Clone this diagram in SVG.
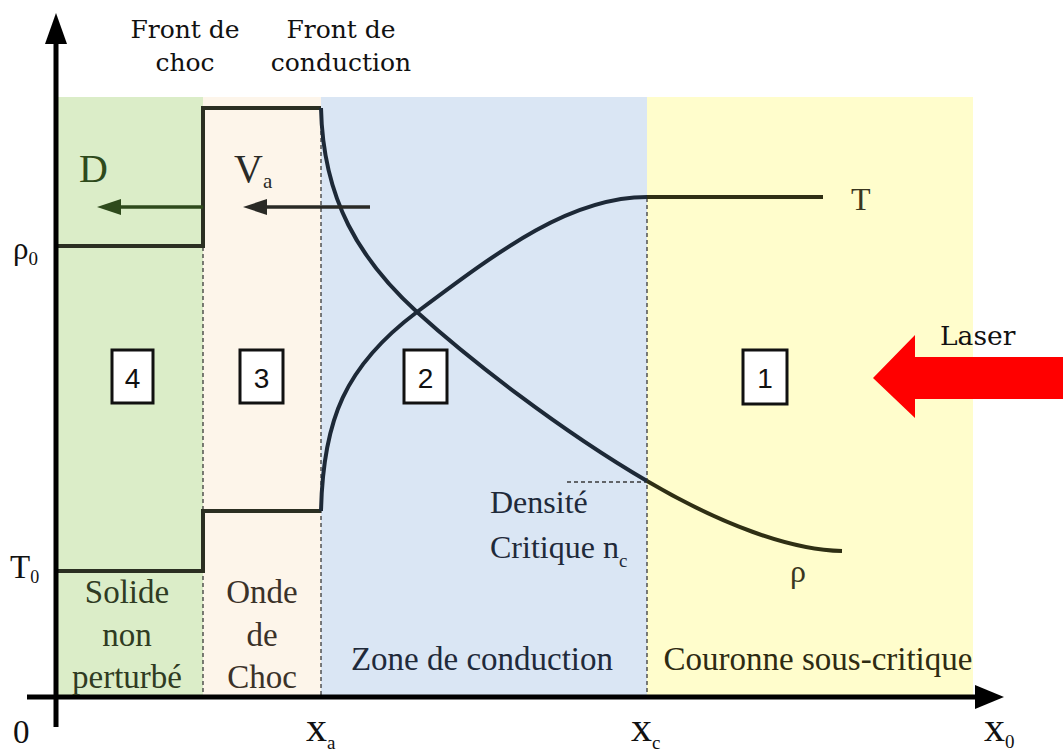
<svg xmlns="http://www.w3.org/2000/svg" width="1063" height="754" viewBox="0 0 1063 754">
<style>
  .serif{font-family:"Liberation Serif","Times New Roman",serif}
  .dv{font-family:"DejaVu Serif","Liberation Serif",serif;font-size:25px;fill:#111}
  .lab{font-size:33px}
  .num{font-family:"Liberation Sans",Arial,sans-serif;font-size:28px;fill:#111;text-anchor:middle}
  .box{fill:#fff;stroke:#111;stroke-width:3}
  .dash{fill:none;stroke:#3a3a3a;stroke-width:1.3;stroke-dasharray:4 3}
  .step{fill:none;stroke:#2b2f22;stroke-width:4;stroke-linejoin:miter}
  .curve{fill:none;stroke:#1d2937;stroke-width:4}
  .curveY{fill:none;stroke:#2f2f14;stroke-width:4}
  .axis{fill:none;stroke:#000;stroke-width:5}
</style>
<rect width="1063" height="754" fill="#fff"/>
<g id="regions">
  <rect id="region4" x="58" y="97" width="145" height="600" fill="#dbedc8"/>
  <rect id="region3" x="203" y="97" width="118" height="600" fill="#fdf5ea"/>
  <rect id="region2" x="321" y="97" width="326" height="600" fill="#dae6f4"/>
  <rect id="region1" x="647" y="97" width="326" height="600" fill="#fffdcc"/>
</g>
<g id="dashes">
  <line class="dash" x1="203" y1="247" x2="203" y2="697"/>
  <line class="dash" x1="321" y1="110" x2="321" y2="697"/>
  <line class="dash" x1="647" y1="198" x2="647" y2="697"/>
  <line class="dash" x1="567" y1="482" x2="647" y2="482"/>
</g>
<g id="connectors">
  <path id="rho-step" class="step" d="M58,246 H203 V108 H321"/>
  <path id="T-step" class="step" d="M58,571 H203 V511 H321"/>
  <path id="rho-curve" class="curve" d="M321,108 C323,200 360,260 417,312 C470,360 560,430 647,481"/>
  <path id="rho-curve-y" class="curveY" d="M647,481 C720,524 790,550 842,551"/>
  <path id="T-curve" class="curve" d="M321,511 C323,420 345,366 417,312 C500,250 570,197 647,197"/>
  <line id="T-flat" class="curveY" x1="647" y1="197" x2="823" y2="197"/>
  <line id="D-arrow" x1="203" y1="207" x2="120" y2="207" stroke="#2e4a1c" stroke-width="3.5"/>
  <polygon points="97,207 121,199 121,215" fill="#2e4a1c"/>
  <line id="Va-arrow" x1="370" y1="207" x2="264" y2="207" stroke="#2a2a26" stroke-width="3.5"/>
  <polygon points="243,207 267,199 267,215" fill="#2a2a26"/>
  <polygon id="laser-arrow" points="873,378 915,335 915,357 1063,357 1063,399 915,399 915,418" fill="#ff0000"/>
  <line id="y-axis" class="axis" x1="56" y1="40" x2="56" y2="727"/>
  <polygon points="56,13 45,44 67,44" fill="#000"/>
  <line id="x-axis" class="axis" x1="27" y1="697" x2="978" y2="697"/>
  <polygon points="1004,697 975,685 975,709" fill="#000"/>
</g>
<g id="top-labels">
  <text class="dv" x="185" y="38" text-anchor="middle">Front de</text>
  <text class="dv" x="185" y="71" text-anchor="middle">choc</text>
  <text class="dv" x="341" y="38" text-anchor="middle">Front de</text>
  <text class="dv" x="341" y="71" text-anchor="middle">conduction</text>
</g>
<g id="axis-labels" class="serif" fill="#111">
  <text x="13" y="259" font-size="31">ρ<tspan font-size="19" dy="6">0</tspan></text>
  <text x="10" y="578" font-size="33">T<tspan font-size="18" dy="5">0</tspan></text>
  <text x="13" y="743" font-size="33">0</text>
  <text x="306" y="741" font-size="42">x<tspan font-size="19" dy="8">a</tspan></text>
  <text x="631" y="741" font-size="42">x<tspan font-size="19" dy="8">c</tspan></text>
  <text x="984" y="741" font-size="42">x<tspan font-size="19" dy="7">0</tspan></text>
</g>
<g id="flow-labels" class="serif">
  <text x="79" y="182" font-size="40" fill="#2e4a1c">D</text>
  <text x="234" y="182" font-size="40" fill="#2a2a26">V<tspan font-size="21" dy="6">a</tspan></text>
  <text x="851" y="210" font-size="32" fill="#3a3620">T</text>
  <text x="790" y="582" font-size="32" fill="#3a3620">ρ</text>
  <text x="940" y="345" class="dv" style="font-size:26.5px">Laser</text>
</g>
<g id="node4">
  <rect class="box" x="112" y="350" width="41" height="53"/>
  <text class="num" x="132.5" y="388">4</text>
  <g class="serif lab" fill="#2f3b22" text-anchor="middle">
    <text x="127" y="603">Solide</text>
    <text x="127" y="646">non</text>
    <text x="127" y="688">perturbé</text>
  </g>
</g>
<g id="node3">
  <rect class="box" x="240" y="350" width="43" height="53"/>
  <text class="num" x="261.5" y="388">3</text>
  <g class="serif lab" fill="#3b3229" text-anchor="middle">
    <text x="262" y="603">Onde</text>
    <text x="262" y="646">de</text>
    <text x="262" y="688">Choc</text>
  </g>
</g>
<g id="node2">
  <rect class="box" x="404" y="350" width="43" height="53"/>
  <text class="num" x="425.5" y="388">2</text>
  <text class="serif lab" x="482" y="670" fill="#1f2a3a" text-anchor="middle">Zone de conduction</text>
  <text class="serif" x="490" y="513" font-size="32" fill="#1f2a3a">Densité</text>
  <text class="serif" x="490" y="558" font-size="32" fill="#1f2a3a">Critique n<tspan font-size="19" dy="9">c</tspan></text>
</g>
<g id="node1">
  <rect class="box" x="743" y="350" width="44" height="54"/>
  <text class="num" x="765" y="388">1</text>
  <text class="serif lab" x="818" y="670" fill="#2e2b12" text-anchor="middle">Couronne sous-critique</text>
</g>
</svg>
